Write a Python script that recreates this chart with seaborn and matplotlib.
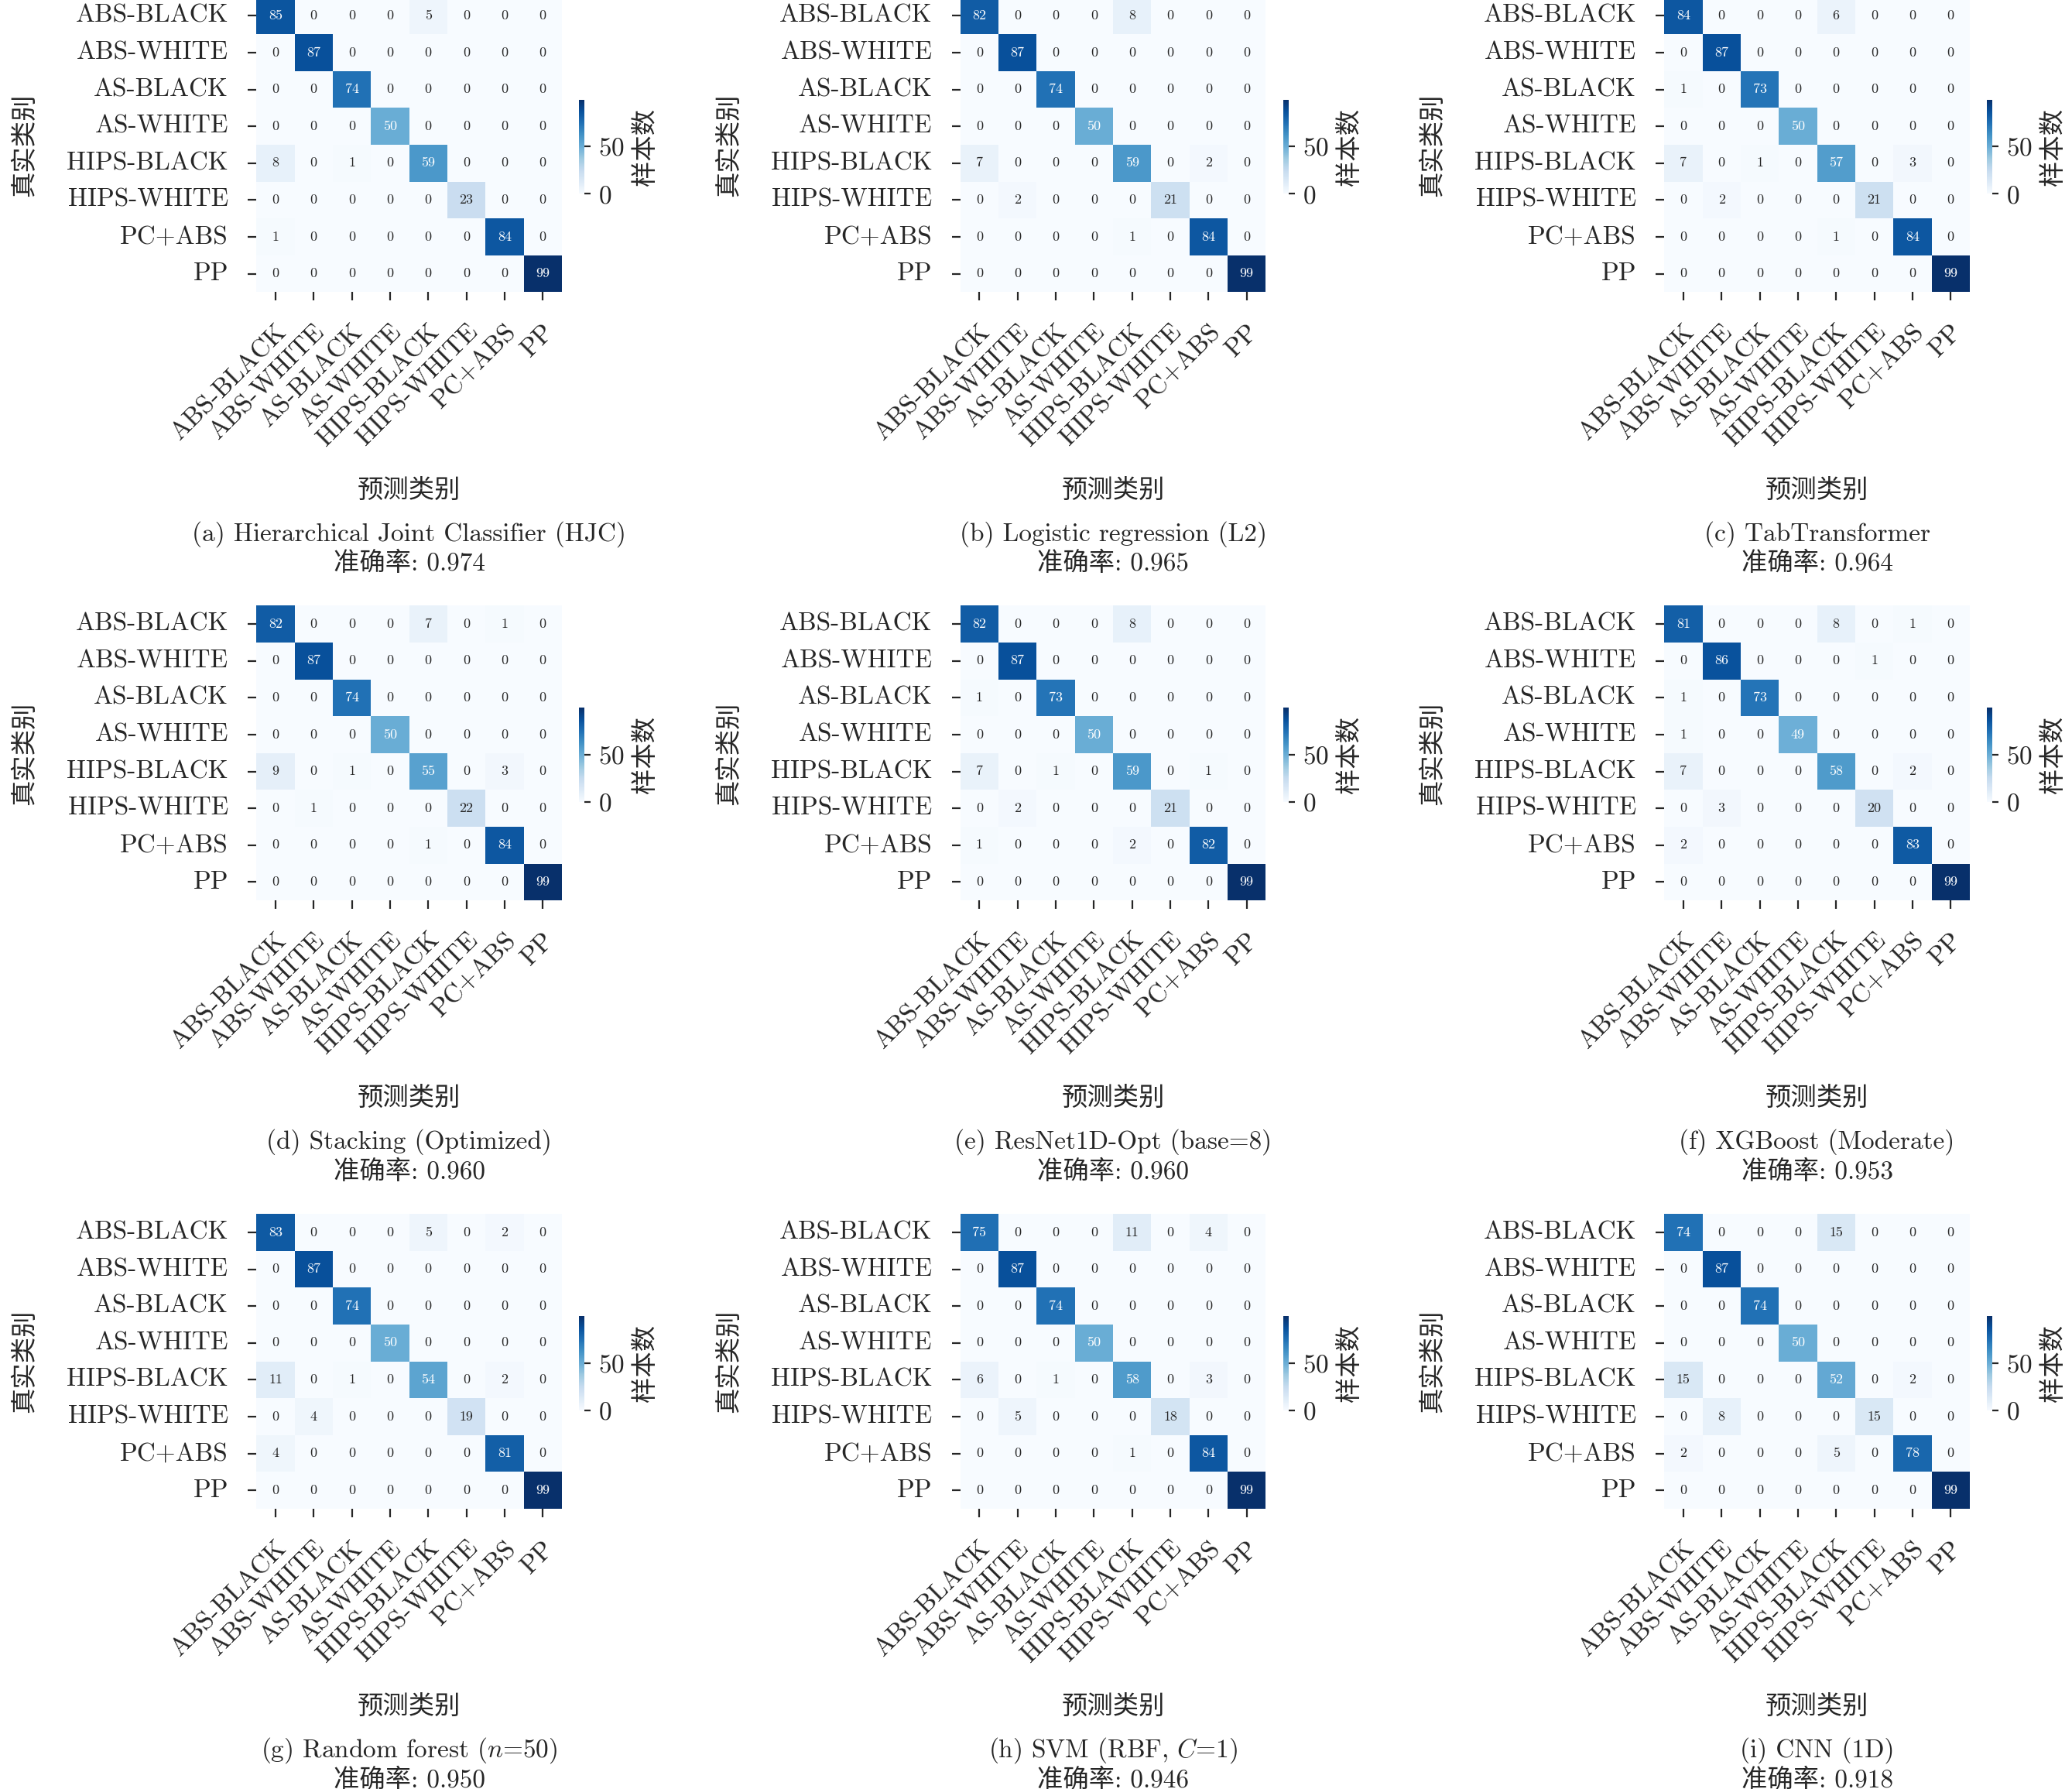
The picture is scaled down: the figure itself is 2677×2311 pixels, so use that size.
import numpy as np
import seaborn as sns
from matplotlib import pyplot as plt

sns.set_theme(style="white")
plt.rcParams["font.family"] = ["cmr10", "Noto Sans CJK SC"]
plt.rcParams["mathtext.fontset"] = "cm"
plt.rcParams["axes.formatter.use_mathtext"] = True
plt.rcParams["axes.unicode_minus"] = False

classes = ["ABS-BLACK", "ABS-WHITE", "AS-BLACK", "AS-WHITE",
           "HIPS-BLACK", "HIPS-WHITE", "PC+ABS", "PP"]

titles = [
    "(a) Hierarchical Joint Classifier (HJC)",
    "(b) Logistic regression (L2)",
    "(c) TabTransformer",
    "(d) Stacking (Optimized)",
    "(e) ResNet1D-Opt (base=8)",
    "(f) XGBoost (Moderate)",
    "(g) Random forest ($n$=50)",
    "(h) SVM (RBF, $C$=1)",
    "(i) CNN (1D)",
]
accs = [0.974, 0.965, 0.964, 0.960, 0.960, 0.953, 0.950, 0.946, 0.918]

def cm(r0, r4, r5, r6, r1=(0, 87, 0, 0, 0, 0, 0, 0), r2=(0, 0, 74, 0, 0, 0, 0, 0),
       r3=(0, 0, 0, 50, 0, 0, 0, 0)):
    return np.array([r0, r1, r2, r3, r4, r5, r6, [0, 0, 0, 0, 0, 0, 0, 99]])

mats = [
    cm([85, 0, 0, 0, 5, 0, 0, 0], [8, 0, 1, 0, 59, 0, 0, 0], [0, 0, 0, 0, 0, 23, 0, 0], [1, 0, 0, 0, 0, 0, 84, 0]),
    cm([82, 0, 0, 0, 8, 0, 0, 0], [7, 0, 0, 0, 59, 0, 2, 0], [0, 2, 0, 0, 0, 21, 0, 0], [0, 0, 0, 0, 1, 0, 84, 0]),
    cm([84, 0, 0, 0, 6, 0, 0, 0], [7, 0, 1, 0, 57, 0, 3, 0], [0, 2, 0, 0, 0, 21, 0, 0], [0, 0, 0, 0, 1, 0, 84, 0],
       r2=[1, 0, 73, 0, 0, 0, 0, 0]),
    cm([82, 0, 0, 0, 7, 0, 1, 0], [9, 0, 1, 0, 55, 0, 3, 0], [0, 1, 0, 0, 0, 22, 0, 0], [0, 0, 0, 0, 1, 0, 84, 0]),
    cm([82, 0, 0, 0, 8, 0, 0, 0], [7, 0, 1, 0, 59, 0, 1, 0], [0, 2, 0, 0, 0, 21, 0, 0], [1, 0, 0, 0, 2, 0, 82, 0],
       r2=[1, 0, 73, 0, 0, 0, 0, 0]),
    cm([81, 0, 0, 0, 8, 0, 1, 0], [7, 0, 0, 0, 58, 0, 2, 0], [0, 3, 0, 0, 0, 20, 0, 0], [2, 0, 0, 0, 0, 0, 83, 0],
       r1=[0, 86, 0, 0, 0, 1, 0, 0], r2=[1, 0, 73, 0, 0, 0, 0, 0], r3=[1, 0, 0, 49, 0, 0, 0, 0]),
    cm([83, 0, 0, 0, 5, 0, 2, 0], [11, 0, 1, 0, 54, 0, 2, 0], [0, 4, 0, 0, 0, 19, 0, 0], [4, 0, 0, 0, 0, 0, 81, 0]),
    cm([75, 0, 0, 0, 11, 0, 4, 0], [6, 0, 1, 0, 58, 0, 3, 0], [0, 5, 0, 0, 0, 18, 0, 0], [0, 0, 0, 0, 1, 0, 84, 0]),
    cm([74, 0, 0, 0, 15, 0, 0, 0], [15, 0, 0, 0, 52, 0, 2, 0], [0, 8, 0, 0, 0, 15, 0, 0], [2, 0, 0, 0, 5, 0, 78, 0]),
]

W, H = 1560.0, 1347.0
fig = plt.figure(figsize=(13.385, 11.555), dpi=200)

for k in range(9):
    r, c = divmod(k, 3)
    x0 = 193 + 530 * c
    y0 = -2 + 458 * r
    ax = fig.add_axes([x0 / W, 1 - (y0 + 222) / H, 230 / W, 222 / H])
    cax = fig.add_axes([(x0 + 243) / W, 1 - (y0 + 148) / H, 4 / W, 71 / H])
    sns.heatmap(mats[k], annot=True, fmt="d", cmap="Blues", ax=ax, cbar_ax=cax,
                xticklabels=classes, yticklabels=classes, annot_kws={"size": 6.5})
    ax.tick_params(axis="both", labelsize=12, length=4, width=0.8, pad=9, bottom=True, left=True)
    ax.set_yticklabels(classes, rotation=0)
    ax.set_xticklabels(classes, rotation=45, ha="right", rotation_mode="anchor")
    ax.set_ylabel("真实类别", fontsize=12)
    ax.set_xlabel("预测类别", fontsize=12)
    ax.yaxis.set_label_coords(-0.72, 0.5)
    ax.xaxis.set_label_coords(0.5, -0.63)
    cax.tick_params(labelsize=12, length=3, width=0.8, right=True)
    cax.set_yticks([0, 50])
    cax.set_ylabel("样本数", fontsize=12)
    cx = (x0 + 115) / W
    fig.text(cx, 1 - (y0 + 404) / H, titles[k], ha="center", va="center", fontsize=12)
    fig.text(cx, 1 - (y0 + 426) / H, f"准确率: {accs[k]:.3f}", ha="center", va="center", fontsize=12)

fig.savefig("out.png", dpi=200)
